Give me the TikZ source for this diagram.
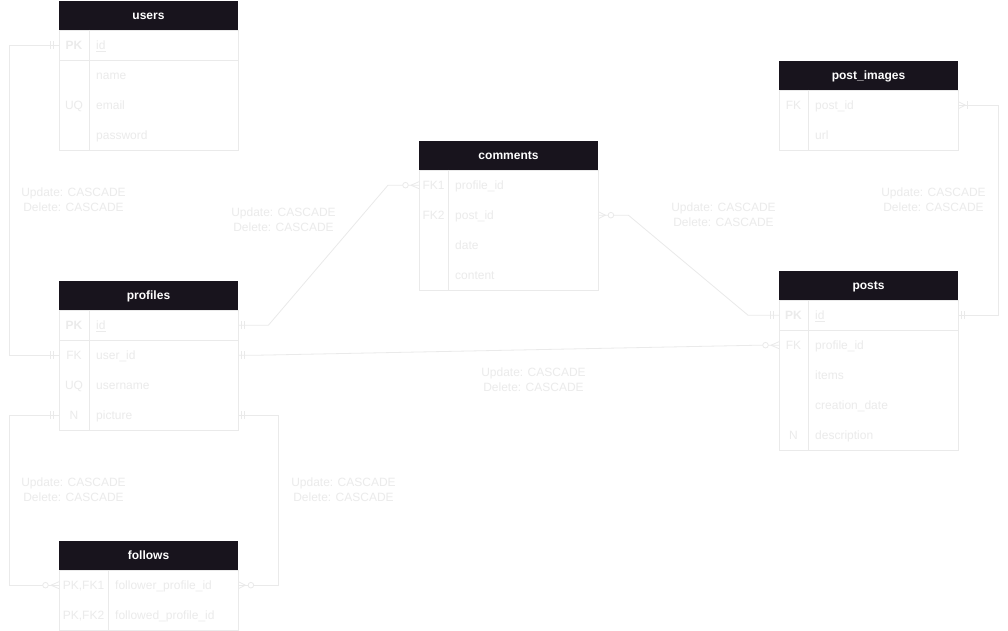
\documentclass[tikz,border=0pt]{standalone}
\usepackage{fontspec}
\setmainfont{Liberation Sans}
\usetikzlibrary{calc}
\definecolor{hdrc}{HTML}{18141D}
\definecolor{txtc}{HTML}{EBEBEB}
\definecolor{linec}{HTML}{EAEAEA}
\tikzset{
  hdr/.style={fill=hdrc, text=white, font=\fontsize{12}{15}\selectfont\bfseries, minimum width=179pt, minimum height=29pt, inner sep=0pt, anchor=north west},
  hdrtxt/.style={text=white, font=\fontsize{12}{15}\selectfont\bfseries, inner sep=0pt, anchor=base},
  rowbox/.style={minimum width=179pt, minimum height=30pt, inner sep=0pt, anchor=north west},
  cell/.style={text=txtc, font=\fontsize{12}{15}\selectfont, inner sep=0pt},
  frame/.style={draw=linec, line width=0.8pt},
  conn/.style={draw=linec, line width=0.8pt},
  lbl/.style={text=txtc, font=\fontsize{12}{15}\selectfont, align=center, inner sep=0pt},
}
% header: name, x, y(top), title
\newcommand\erhead[4]{%
  \node[hdr] (#1) at (#2,#3) {};
  \node[hdrtxt] at ({#2+89.5},{#3+18.5}) {#4};}
% row: name, x, y(top), key width, key text, field text
\newcommand\errow[6]{%
  \node[rowbox] (#1) at (#2,#3) {};
  \node[cell,anchor=base] at ({#2+#4/2},{#3+19.5}) {#5};
  \node[cell,anchor=base west] at ({#2+#4+7},{#3+19.5}) {#6};}
% two bars: coordinate, offset1, offset2
\newcommand\erbars[3]{%
  \draw[conn] ($(#1)+(#2,-4)$) -- ($(#1)+(#2,4)$);
  \draw[conn] ($(#1)+(#3,-4)$) -- ($(#1)+(#3,4)$);}
% crow foot: coordinate, tip offset
\newcommand\ercrow[2]{%
  \draw[conn] ($(#1)+(#2,0)$) -- ($(#1)+(0,-3.5)$);
  \draw[conn] ($(#1)+(#2,0)$) -- ($(#1)+(0,3.5)$);}
% circle: coordinate, offset
\newcommand\ercirc[2]{%
  \draw[conn,fill=white] ($(#1)+(#2,0)$) circle[radius=2.8pt];}
\begin{document}
\begin{tikzpicture}[x=1pt,y=-1pt]
\fill[white] (0,0) rectangle (1008,631);
\useasboundingbox (0,0) rectangle (1008,631);

% ---------- users ----------
\erhead{users}{59}{1}{users}
\errow{u-id}{59}{30}{30}{\textbf{PK}}{\underline{id}}
\errow{u-name}{59}{60}{30}{}{name}
\errow{u-email}{59}{90}{30}{UQ}{email}
\errow{u-pass}{59}{120}{30}{}{password}
\draw[frame] (59,30) rectangle (238,150);
\draw[frame] (89,30) -- (89,150);
\draw[frame] (59,60) -- (238,60);

% ---------- profiles ----------
\erhead{profiles}{59}{281}{profiles}
\errow{p-id}{59}{310}{30}{\textbf{PK}}{\underline{id}}
\errow{p-userid}{59}{340}{30}{FK}{user\_id}
\errow{p-username}{59}{370}{30}{UQ}{username}
\errow{p-pic}{59}{400}{30}{N}{picture}
\draw[frame] (59,310) rectangle (238,430);
\draw[frame] (89,310) -- (89,430);
\draw[frame] (59,340) -- (238,340);

% ---------- follows ----------
\erhead{follows}{59}{541}{follows}
\errow{f-1}{59}{570}{49}{PK,FK1}{follower\_profile\_id}
\errow{f-2}{59}{600}{49}{PK,FK2}{followed\_profile\_id}
\draw[frame] (59,570) rectangle (238,630);
\draw[frame] (108,570) -- (108,630);

% ---------- comments ----------
\erhead{comments}{419}{141}{comments}
\errow{c-profile}{419}{170}{29}{FK1}{profile\_id}
\errow{c-post}{419}{200}{29}{FK2}{post\_id}
\errow{c-date}{419}{230}{29}{}{date}
\errow{c-content}{419}{260}{29}{}{content}
\draw[frame] (419,170) rectangle (598,290);
\draw[frame] (448,170) -- (448,290);

% ---------- post_images ----------
\erhead{postimages}{779}{61}{post\_images}
\errow{i-post}{779}{90}{29}{FK}{post\_id}
\errow{i-url}{779}{120}{29}{}{url}
\draw[frame] (779,90) rectangle (958,150);
\draw[frame] (808,90) -- (808,150);

% ---------- posts ----------
\erhead{posts}{779}{271}{posts}
\errow{s-id}{779}{300}{29}{\textbf{PK}}{\underline{id}}
\errow{s-profile}{779}{330}{29}{FK}{profile\_id}
\errow{s-items}{779}{360}{29}{}{items}
\errow{s-date}{779}{390}{29}{}{creation\_date}
\errow{s-desc}{779}{420}{29}{N}{description}
\draw[frame] (779,300) rectangle (958,450);
\draw[frame] (808,300) -- (808,450);
\draw[frame] (779,330) -- (958,330);

% ---------- connectors ----------
% users.id -> profiles.user_id
\draw[conn] (u-id.west) -- ++(-50,0) |- (p-userid.west);
\erbars{u-id.west}{-6}{-9}
\erbars{p-userid.west}{-6}{-9}
\node[lbl] (l1) at (73.5,200) {Update: CASCADE\\Delete: CASCADE};

% profiles.id -> comments.profile_id
\draw[conn] (p-id.east) -- ++(30,0) -- ($(c-profile.west)+(-31,0)$) -- (c-profile.west);
\erbars{p-id.east}{3}{6}
\ercirc{c-profile.west}{-13.5}
\ercrow{c-profile.west}{-8}
\node[lbl] (l2) at (283.5,220) {Update: CASCADE\\Delete: CASCADE};

% profiles.user_id -> posts.profile_id
\draw[conn] (p-userid.east) -- ++(20,0) -- ($(s-profile.west)+(-20,0)$) -- (s-profile.west);
\erbars{p-userid.east}{3}{6}
\ercirc{s-profile.west}{-13.5}
\ercrow{s-profile.west}{-8}
\node[lbl] (l3) at (533.5,380) {Update: CASCADE\\Delete: CASCADE};

% comments.post_id -> posts.id
\draw[conn] (c-post.east) -- ++(30,0) -- ($(s-id.west)+(-31,0)$) -- (s-id.west);
\ercirc{c-post.east}{12.5}
\ercrow{c-post.east}{7}
\erbars{s-id.west}{-6}{-9}
\node[lbl] (l4) at (723.5,215) {Update: CASCADE\\Delete: CASCADE};

% post_images.post_id -> posts.id
\draw[conn] (i-post.east) -- ++(40,0) |- (s-id.east);
\ercrow{i-post.east}{7}
\draw[conn] ($(i-post.east)+(9,-4)$) -- ($(i-post.east)+(9,4)$);
\erbars{s-id.east}{3}{6}
\node[lbl] (l5) at (933.5,200) {Update: CASCADE\\Delete: CASCADE};

% profiles -> follows.follower
\draw[conn] (p-pic.west) -- ++(-50,0) |- (f-1.west);
\erbars{p-pic.west}{-6}{-9}
\ercirc{f-1.west}{-13.5}
\ercrow{f-1.west}{-8}
\node[lbl] (l6) at (73.5,490) {Update: CASCADE\\Delete: CASCADE};

% profiles -> follows.followed
\draw[conn] (p-pic.east) -- ++(40,0) |- (f-1.east);
\erbars{p-pic.east}{3}{6}
\ercirc{f-1.east}{12.5}
\ercrow{f-1.east}{7}
\node[lbl] (l7) at (343.5,490) {Update: CASCADE\\Delete: CASCADE};
\end{tikzpicture}
\end{document}
